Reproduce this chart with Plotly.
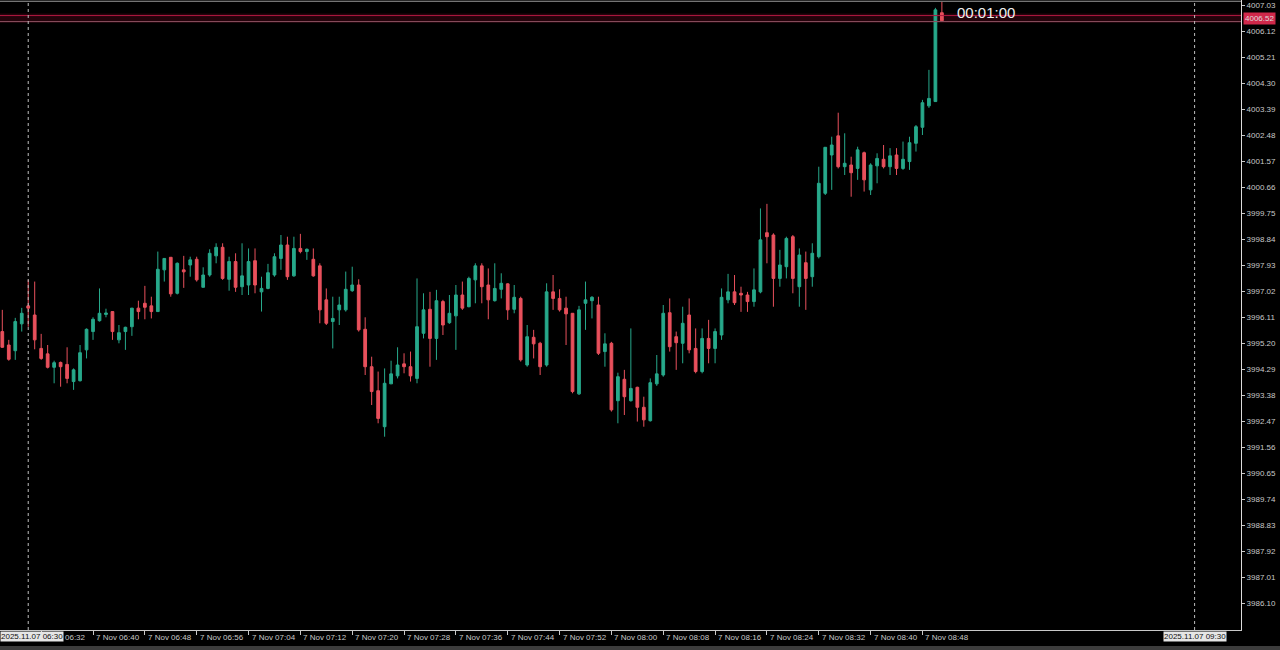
import pandas as pd
import plotly.graph_objects as go

# ---- data (M1 candles, 7 Nov 2025, from 06:26) ----
opens = [3995.60, 3995.13, 3994.93, 3995.87, 3996.50, 3996.18, 3995.01, 3994.82, 3994.35, 3994.52,
         3994.45, 3993.85, 3993.88, 3994.96, 3995.60, 3995.98, 3996.20, 3996.30, 3995.31, 3995.60,
         3995.77, 3996.42, 3996.59, 3996.50, 3996.30, 3997.76, 3998.20, 3996.94, 3997.76, 3997.93,
         3998.13, 3997.15, 3997.58, 3998.25, 3998.55, 3997.43, 3998.05, 3997.17, 3997.23, 3998.08,
         3996.99, 3997.11, 3997.58, 3998.16, 3998.63, 3997.55, 3998.51, 3998.40, 3998.13, 3997.90,
         3996.71, 3995.95, 3996.36, 3996.36, 3997.03, 3997.23, 3995.68, 3994.37, 3993.53, 3992.27,
         3993.77, 3994.05, 3994.47, 3994.37, 3993.96, 3995.54, 3996.38, 3995.36, 3996.65, 3995.91,
         3996.15, 3996.88, 3996.47, 3997.41, 3997.90, 3997.23, 3996.68, 3997.08, 3997.27, 3996.38,
         3996.76, 3994.43, 3995.40, 3995.19, 3994.43, 3996.99, 3996.76, 3996.42, 3996.24, 3993.42,
         3996.59, 3996.68, 3996.53, 3994.90, 3995.19, 3993.18, 3993.93, 3993.18, 3993.65, 3992.95,
         3992.48, 3993.77, 3994.08, 3996.26, 3995.42, 3995.19, 3996.18, 3995.01, 3994.20, 3995.36,
         3995.01, 3995.48, 3996.71, 3996.99, 3996.94, 3996.88, 3996.65, 3996.99, 3999.06, 3998.98,
         3997.46, 3997.87, 3998.92, 3997.17, 3998.01, 3997.52, 3998.22, 4000.44, 4001.78, 4002.45,
         4001.37, 4001.43, 4001.31, 4001.86, 4000.56, 4001.40, 4001.63, 4001.37, 4001.78, 4001.31,
         4001.55, 4002.19, 4002.75, 4003.50, 4003.65, 4006.76]
highs = [3996.36, 3995.31, 3996.08, 3996.43, 3997.41, 3997.35, 3995.52, 3995.13, 3994.58, 3994.55,
         3995.05, 3994.31, 3995.13, 3995.71, 3996.10, 3997.11, 3996.40, 3996.30, 3995.83, 3995.77,
         3996.42, 3996.68, 3997.20, 3996.82, 3998.40, 3998.16, 3998.20, 3998.02, 3998.25, 3998.22,
         3998.22, 3997.85, 3998.48, 3998.69, 3998.69, 3998.22, 3998.34, 3998.69, 3998.51, 3998.51,
         3997.52, 3997.97, 3998.34, 3998.98, 3998.92, 3998.92, 3999.02, 3998.51, 3998.51, 3997.99,
         3997.11, 3996.82, 3996.82, 3997.70, 3997.87, 3997.43, 3996.10, 3994.72, 3994.20, 3994.31,
         3994.58, 3995.05, 3994.84, 3994.90, 3997.46, 3996.94, 3996.99, 3997.06, 3996.71, 3996.88,
         3997.23, 3997.35, 3997.52, 3997.99, 3997.99, 3997.81, 3997.99, 3997.64, 3997.29, 3997.23,
         3996.82, 3995.83, 3995.66, 3995.24, 3997.29, 3997.58, 3997.08, 3996.82, 3996.24, 3996.50,
         3997.35, 3996.84, 3996.82, 3995.54, 3995.24, 3994.16, 3994.26, 3995.71, 3993.67, 3993.32,
         3993.96, 3994.78, 3996.53, 3996.76, 3995.60, 3996.47, 3996.76, 3995.71, 3995.71, 3996.01,
         3995.71, 3997.11, 3997.62, 3997.58, 3997.17, 3996.99, 3997.81, 3999.91, 4000.07, 3999.04,
         3998.46, 3998.92, 3998.98, 3998.51, 3998.40, 3998.69, 4001.37, 4002.05, 4002.42, 4003.26,
         4002.54, 4001.72, 4002.07, 4001.90, 4001.49, 4001.84, 4002.13, 4002.02, 4002.02, 4002.25,
         4002.42, 4002.83, 4003.71, 4004.76, 4006.93, 4007.14]
lows = [3995.03, 3994.58, 3994.61, 3995.60, 3995.77, 3994.98, 3994.61, 3994.31, 3993.79, 3993.67,
        3993.79, 3993.56, 3993.85, 3994.66, 3995.31, 3995.95, 3996.10, 3995.31, 3995.19, 3994.96,
        3995.45, 3996.03, 3996.03, 3996.06, 3996.30, 3997.35, 3996.82, 3996.90, 3997.13, 3997.52,
        3997.35, 3997.15, 3997.52, 3997.99, 3997.41, 3997.03, 3996.99, 3996.88, 3996.88, 3996.94,
        3996.30, 3997.08, 3997.52, 3997.76, 3997.41, 3997.52, 3998.34, 3998.11, 3997.52, 3995.89,
        3995.83, 3995.01, 3995.83, 3996.30, 3996.99, 3995.60, 3994.08, 3993.03, 3992.39, 3991.92,
        3993.77, 3993.96, 3994.14, 3993.85, 3993.79, 3995.36, 3994.37, 3994.61, 3995.48, 3995.87,
        3994.96, 3996.36, 3996.45, 3996.59, 3996.59, 3996.03, 3996.65, 3996.76, 3996.01, 3996.24,
        3994.55, 3994.37, 3994.66, 3994.08, 3994.37, 3996.36, 3996.30, 3995.13, 3993.44, 3993.38,
        3995.66, 3996.06, 3994.78, 3994.37, 3992.80, 3992.39, 3992.68, 3993.15, 3992.45, 3992.27,
        3992.45, 3993.70, 3994.02, 3994.90, 3994.26, 3994.49, 3994.84, 3994.14, 3994.14, 3994.49,
        3994.49, 3995.31, 3996.59, 3996.53, 3996.29, 3996.29, 3996.47, 3996.94, 3997.99, 3996.47,
        3997.17, 3997.46, 3996.94, 3996.47, 3996.36, 3997.17, 3998.16, 4000.38, 4000.56, 4001.31,
        4001.08, 4000.32, 4000.91, 4000.50, 4000.38, 4000.79, 4001.31, 4001.08, 4001.08, 4001.26,
        4001.26, 4001.90, 4002.48, 4003.43, 4003.64, 4006.48]
closes = [3995.05, 3994.63, 3995.95, 3996.24, 3996.42, 3995.31, 3994.66, 3994.35, 3994.51, 3994.37,
          3993.96, 3994.26, 3994.86, 3995.68, 3996.03, 3996.24, 3996.25, 3995.60, 3995.56, 3995.75,
          3996.42, 3996.30, 3996.45, 3996.30, 3997.78, 3998.16, 3996.92, 3997.99, 3997.69, 3998.11,
          3997.41, 3997.58, 3998.34, 3998.55, 3997.46, 3998.05, 3997.15, 3997.55, 3998.05, 3997.23,
          3997.11, 3997.66, 3998.22, 3998.63, 3997.52, 3998.51, 3998.40, 3998.48, 3997.55, 3996.36,
          3995.89, 3996.06, 3996.53, 3997.08, 3997.23, 3995.66, 3994.37, 3993.50, 3992.56, 3993.79,
          3994.12, 3994.43, 3994.37, 3994.05, 3995.77, 3996.36, 3995.36, 3996.68, 3995.83, 3996.24,
          3996.88, 3996.42, 3997.46, 3997.90, 3997.17, 3996.71, 3997.11, 3997.29, 3996.36, 3996.80,
          3994.61, 3995.42, 3995.17, 3994.37, 3996.99, 3996.76, 3996.36, 3996.22, 3993.50, 3996.36,
          3996.71, 3996.80, 3994.84, 3995.17, 3992.86, 3994.02, 3993.32, 3993.61, 3992.95, 3992.51,
          3993.81, 3994.12, 3996.24, 3995.07, 3995.21, 3995.89, 3994.96, 3994.20, 3995.36, 3995.01,
          3995.60, 3996.80, 3996.99, 3996.61, 3996.88, 3996.65, 3997.06, 3998.81, 3998.92, 3997.46,
          3997.93, 3998.86, 3997.46, 3998.28, 3997.46, 3998.34, 4000.79, 4002.05, 4002.13, 4001.37,
          4001.49, 4001.16, 4001.96, 4000.91, 4001.43, 4001.66, 4001.37, 4001.75, 4001.31, 4001.63,
          4002.21, 4002.77, 4003.61, 4003.76, 4006.86, 4006.48]
times = pd.date_range("2025-11-07 06:26", periods=len(opens), freq="1min")

y_ticks = [4007.03, 4006.12, 4005.21, 4004.30, 4003.39, 4002.48, 4001.57, 4000.66, 3999.75,
           3998.84, 3997.93, 3997.02, 3996.11, 3995.20, 3994.29, 3993.38, 3992.47, 3991.56,
           3990.65, 3989.74, 3988.83, 3987.92, 3987.01, 3986.10]
x_tick_times = ["06:32", "06:40", "06:48", "06:56", "07:04", "07:12", "07:20", "07:28", "07:36",
                "07:44", "07:52", "08:00", "08:08", "08:16", "08:24", "08:32", "08:40", "08:48"]
x_tick_labels = ["06:32"] + ["7 Nov " + t for t in x_tick_times[1:]]
bid_price = 4006.45
ask_price = 4006.66
price_label = "4006.52"
timer_text = "00:01:00"
sep_times = ["06:30", "09:30"]
sep_labels = ["2025.11.07 06:30", "2025.11.07 09:30"]

GREEN = "#27a98b"
RED = "#e8505c"
AXC = "#c8c8c8"
DAY = "2025-11-07 "

fig = go.Figure()
fig.add_trace(go.Candlestick(
    x=times, open=opens, high=highs, low=lows, close=closes,
    increasing=dict(line=dict(color=GREEN, width=1), fillcolor=GREEN),
    decreasing=dict(line=dict(color=RED, width=1), fillcolor=RED),
    whiskerwidth=0, hoverinfo="skip", showlegend=False,
))

shapes = []
# dark band + bid/ask lines
shapes.append(dict(type="rect", xref="paper", x0=0, x1=1, yref="y", y0=bid_price - 0.04,
                   y1=ask_price + 0.07, fillcolor="rgba(70,5,22,0.5)", line=dict(width=0),
                   layer="below"))
shapes.append(dict(type="line", xref="paper", x0=0, x1=1, yref="y", y0=ask_price, y1=ask_price,
                   line=dict(color="#b01840", width=1)))
shapes.append(dict(type="line", xref="paper", x0=0, x1=1, yref="y", y0=bid_price, y1=bid_price,
                   line=dict(color="#8c5060", width=1)))
# top border
shapes.append(dict(type="line", xref="paper", x0=0, x1=1, yref="paper", y0=0.998, y1=0.998,
                   line=dict(color="#9a9a9a", width=1)))
# separators
for t in sep_times:
    shapes.append(dict(type="line", xref="x", x0=DAY + t, x1=DAY + t, yref="paper", y0=0, y1=1,
                       line=dict(color="#bdbdbd", width=1, dash="dot")))
# bottom strip
shapes.append(dict(type="rect", xref="paper", x0=0, x1=1.032, yref="paper", y0=-0.0254,
                   y1=-0.032, fillcolor="#3c3c3c", line=dict(width=0)))

annotations = []
for i, (t, lab) in enumerate(zip(x_tick_times, x_tick_labels)):
    annotations.append(dict(x=DAY + t, y=0, xref="x", yref="paper", xanchor="left",
                            yanchor="top", text=lab, showarrow=False,
                            xshift=(22 if i == 0 else 1), yshift=-1,
                            font=dict(size=8, color=AXC, family="Liberation Sans")))
# period-separator date boxes (left one pinned to the left edge as in the terminal)
annotations.append(dict(x=0, y=0, xref="paper", yref="paper", xanchor="left",
                        yanchor="top", text=sep_labels[0], showarrow=False, yshift=-1,
                        bgcolor="#e6e6e6", borderpad=0,
                        font=dict(size=8, color="#111111", family="Liberation Sans")))
annotations.append(dict(x=DAY + sep_times[1], y=0, xref="x", yref="paper", xanchor="center",
                        yanchor="top", text=sep_labels[1], showarrow=False, yshift=-1,
                        bgcolor="#e6e6e6", borderpad=0,
                        font=dict(size=8, color="#111111", family="Liberation Sans")))
annotations.append(dict(x=DAY + "08:53:01", y=4006.78, xref="x", yref="y", xanchor="left",
                        yanchor="middle", text=timer_text, showarrow=False,
                        font=dict(size=15, color="#f0f0f0", family="Liberation Sans")))
annotations.append(dict(x=1, y=4006.55, xref="paper", yref="y", xanchor="left",
                        yanchor="middle", text=price_label, showarrow=False, xshift=2,
                        bgcolor="#d0284a", borderpad=1,
                        font=dict(size=8, color="#dddddd", family="Liberation Sans")))

fig.update_layout(
    width=1280, height=650,
    margin=dict(l=0, r=39, t=0, b=20, autoexpand=False),
    paper_bgcolor="#000000", plot_bgcolor="#000000",
    showlegend=False, boxgap=0.4, hovermode=False,
    shapes=shapes, annotations=annotations,
    xaxis=dict(type="date", range=[DAY + "06:25:38.7", DAY + "09:37:09.6"],
               rangeslider=dict(visible=False), showgrid=False, zeroline=False,
               showline=True, linecolor=AXC, linewidth=1, automargin=False,
               ticks="outside", ticklen=4, tickcolor=AXC,
               tickvals=[DAY + t for t in x_tick_times], showticklabels=False),
    yaxis=dict(side="right", range=[3985.155, 4007.205], showgrid=False, zeroline=False,
               showline=True, linecolor="#dcdcdc", linewidth=1, automargin=False,
               ticks="outside", ticklen=3, tickcolor=AXC,
               tickvals=y_ticks, ticktext=[f"{v:.2f}" for v in y_ticks],
               tickfont=dict(size=8, color=AXC, family="Liberation Sans")),
)

fig.write_html(
    "out.html",
    config={"displayModeBar": False, "staticPlot": True},
    post_script="document.body.style.margin='0';document.body.style.overflow='hidden';",
)
